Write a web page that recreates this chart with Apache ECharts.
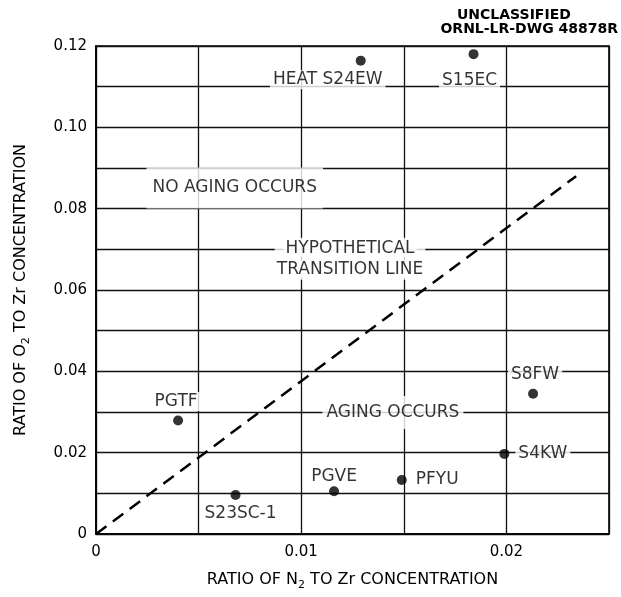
<!DOCTYPE html>
<html>
<head>
<meta charset="utf-8">
<script src="https://cdn.jsdelivr.net/npm/echarts@6/dist/echarts.min.js"></script>
<style>
  html, body { margin: 0; padding: 0; background: #fff; }
  #chart { width: 621px; height: 597px; }
</style>
</head>
<body>
<div id="chart"></div>
<script>
// Heats of zirconium: nitrogen and oxygen ratios to Zr concentration
const heats   = ['PGTF', 'S23SC-1', 'PGVE', 'PFYU', 'S4KW', 'S8FW', 'HEAT S24EW', 'S15EC'];
const n2Ratio = [0.0040, 0.0068, 0.0116, 0.0149, 0.0199, 0.0213, 0.0129, 0.0184];
const o2Ratio = [0.0279, 0.0096, 0.0105, 0.0133, 0.0197, 0.0345, 0.1164, 0.1180];

// Hypothetical transition line (start and end points)
const transitionN2 = [0, 0.0234];
const transitionO2 = [0, 0.088];

// Tick labels
const xTickValues = [0, 0.01, 0.02];
const xTickLabels = ['0', '0.01', '0.02'];
const yTickValues = [0, 0.02, 0.04, 0.06, 0.08, 0.10, 0.12];
const yTickLabels = ['0', '0.02', '0.04', '0.06', '0.08', '0.10', '0.12'];

const FONT = 'DejaVu Sans';

function tickText(values, labels) {
  return function (v) {
    const i = values.findIndex(t => Math.abs(t - v) < 1e-9);
    return i >= 0 ? labels[i] : '';
  };
}

// Label placement around each heat marker
const labelPlacement = {
  'PGTF':       { position: 'inside', offset: [-2, -19] },
  'S23SC-1':    { position: 'inside', offset: [5, 19] },
  'PGVE':       { position: 'inside', offset: [0, -15] },
  'PFYU':       { position: 'right', distance: 6 },
  'S4KW':       { position: 'right', distance: 6 },
  'S8FW':       { position: 'inside', offset: [2, -19] },
  'HEAT S24EW': { position: 'inside', offset: [-33, 19] },
  'S15EC':      { position: 'inside', offset: [-4, 26] }
};

const pointData = heats.map((name, i) => {
  const p = labelPlacement[name];
  return {
    name: name,
    value: [n2Ratio[i], o2Ratio[i]],
    label: Object.assign({
      show: true,
      formatter: name,
      align: p.position === 'right' ? 'left' : 'center',
      verticalAlign: 'middle'
    }, p)
  };
});

const labelStyle = {
  fontFamily: FONT,
  fontSize: 17,
  color: '#000',
  backgroundColor: '#fff',
  padding: [1, 3]
};

const chart = echarts.init(document.getElementById('chart'), null, { renderer: 'canvas' });

chart.setOption({
  backgroundColor: '#fff',
  animation: false,
  grid: {
    left: 96, right: 12, top: 46, bottom: 63,
    show: true, borderColor: '#000', borderWidth: 1.6
  },
  xAxis: {
    type: 'value', min: 0, max: 0.025, interval: 0.005,
    axisLine: { show: true, lineStyle: { color: '#000', width: 1.6 } },
    axisTick: { show: false },
    splitLine: { show: true, lineStyle: { color: '#111', width: 1.3 } },
    axisLabel: {
      formatter: tickText(xTickValues, xTickLabels),
      fontFamily: FONT, fontSize: 15, color: '#000', margin: 11
    },
    name: 'RATIO OF N{sub|2} TO Zr CONCENTRATION',
    nameLocation: 'middle',
    nameGap: 35,
    nameTextStyle: {
      fontFamily: FONT, fontSize: 16, color: '#000',
      rich: { sub: { fontFamily: FONT, fontSize: 11, color: '#000', padding: [11, 0, 0, 0] } }
    }
  },
  yAxis: {
    type: 'value', min: 0, max: 0.12, interval: 0.01,
    axisLine: { show: true, lineStyle: { color: '#000', width: 1.6 } },
    axisTick: { show: false },
    splitLine: { show: true, lineStyle: { color: '#111', width: 1.3 } },
    axisLabel: {
      formatter: tickText(yTickValues, yTickLabels),
      fontFamily: FONT, fontSize: 15, color: '#000', margin: 9
    },
    name: 'RATIO OF O{sub|2} TO Zr CONCENTRATION',
    nameLocation: 'middle',
    nameGap: 64,
    nameTextStyle: {
      fontFamily: FONT, fontSize: 16, color: '#000',
      rich: { sub: { fontFamily: FONT, fontSize: 11, color: '#000', padding: [11, 0, 0, 0] } }
    }
  },
  graphic: [
    {
      type: 'text', left: 457, top: 8,
      style: { text: 'UNCLASSIFIED', font: 'bold 14px "DejaVu Sans"', fill: '#000' }
    },
    {
      type: 'text', right: 3, top: 22,
      style: { text: 'ORNL-LR-DWG 48878R', font: 'bold 14px "DejaVu Sans"', fill: '#000' }
    }
  ],
  series: [
    {
      name: 'Transition line',
      type: 'line',
      data: transitionN2.map((x, i) => [x, transitionO2[i]]),
      symbol: 'none',
      silent: true,
      lineStyle: { color: '#000', width: 2.5, type: [13, 8] },
      z: 3
    },
    {
      name: 'Regions',
      type: 'scatter',
      symbolSize: 0,
      silent: true,
      z: 4,
      data: [
        { value: [0.00676, 0.0851], label: { formatter: 'NO AGING OCCURS', padding: [10, 6] } },
        { value: [0.01238, 0.0677], label: { formatter: '{a|HYPOTHETICAL}\n{a|TRANSITION LINE}' } },
        { value: [0.01447, 0.0299], label: { formatter: 'AGING OCCURS', padding: [6, 4] } }
      ],
      label: {
        show: true, position: 'inside', align: 'center', verticalAlign: 'middle',
        fontFamily: FONT, fontSize: 17, color: '#000', backgroundColor: '#fff',
        lineHeight: 21,
        rich: {
          a: { fontFamily: FONT, fontSize: 17, color: '#000', backgroundColor: '#fff',
               lineHeight: 21, padding: [0, 2] }
        }
      }
    },
    {
      name: 'Heats',
      type: 'scatter',
      symbol: 'circle',
      symbolSize: 10,
      itemStyle: { color: '#000' },
      z: 5,
      data: pointData,
      label: Object.assign({ show: true }, labelStyle)
    }
  ]
});
</script>
</body>
</html>
